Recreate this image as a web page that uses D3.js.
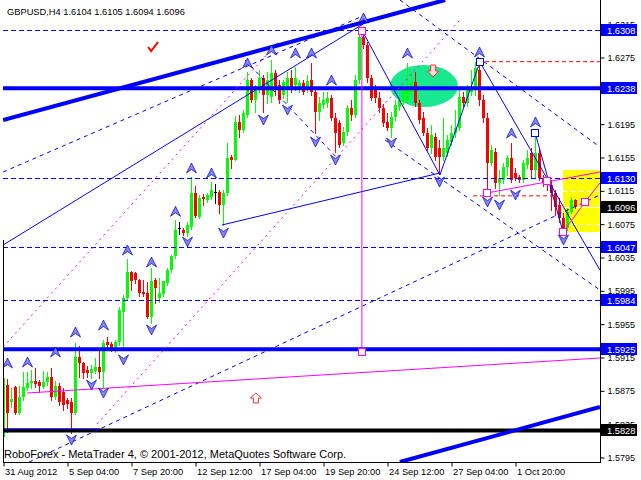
<!DOCTYPE html>
<html><head><meta charset="utf-8">
<script src="https://cdn.jsdelivr.net/npm/d3@7"></script>
<style>
html,body{margin:0;padding:0;background:#fff;}
svg{display:block;font-family:"Liberation Sans",Arial,sans-serif;}
</style>
</head><body>
<svg id="chart" width="641" height="480"></svg>
<script>
// ---------- DATA ----------
const titleText = "GBPUSD,H4  1.6104 1.6105 1.6094 1.6096";
const footerText = "RoboForex - MetaTrader 4, \u00a9 2001-2012, MetaQuotes Software Corp.";

const opens = [1.5820,1.5882,1.5862,1.5880,1.5848,1.5868,1.5878,1.5884,1.5887,1.5886,1.5880,1.5886,1.5892,1.5868,1.5881,1.5874,1.5864,1.5862,1.5848,1.5916,
1.5908,1.5900,1.5896,1.5899,1.5904,1.5898,1.5934,1.5931,1.5924,1.5934,1.5970,1.5986,1.6018,1.6016,1.6008,1.5994,1.5992,1.5964,1.6008,1.5986,
1.5991,1.6004,1.6020,1.6037,1.6070,1.6068,1.6064,1.6072,1.6112,1.6084,1.6108,1.6104,1.6108,1.6114,1.6114,1.6098,1.6112,1.6156,1.6152,1.6198,
1.6188,1.6206,1.6248,1.6224,1.6236,1.6250,1.6230,1.6228,1.6256,1.6242,1.6230,1.6236,1.6250,1.6242,1.6240,1.6244,1.6238,1.6248,1.6234,1.6210,
1.6218,1.6220,1.6226,1.6202,1.6196,1.6172,1.6186,1.6214,1.6206,1.6248,1.6300,1.6290,1.6250,1.6236,1.6226,1.6214,1.6198,1.6190,1.6204,1.6216,
1.6222,1.6224,1.6234,1.6246,1.6220,1.6202,1.6184,1.6166,1.6180,1.6166,1.6156,1.6160,1.6174,1.6184,1.6190,1.6228,1.6220,1.6234,1.6236,1.6260,
1.6224,1.6202,1.6148,1.6162,1.6124,1.6128,1.6144,1.6154,1.6136,1.6132,1.6128,1.6146,1.6160,1.6140,1.6160,1.6130,1.6126,1.6122,1.6112,1.6098,
1.6082,1.6070,1.6090,1.6104];
const highs = [1.5894,1.5889,1.5878,1.5881,1.5881,1.5898,1.5898,1.5900,1.5902,1.5888,1.5899,1.5898,1.5902,1.5887,1.5884,1.5878,1.5866,1.5866,1.5932,1.5929,
1.5910,1.5905,1.5906,1.5914,1.5925,1.5936,1.5940,1.5934,1.5936,1.5976,1.5990,1.6033,1.6019,1.6018,1.6009,1.6008,1.6006,1.6022,1.6010,1.6010,
1.6007,1.6022,1.6038,1.6080,1.6078,1.6070,1.6078,1.6132,1.6121,1.6110,1.6111,1.6112,1.6126,1.6123,1.6116,1.6116,1.6172,1.6158,1.6205,1.6206,
1.6212,1.6258,1.6250,1.6242,1.6260,1.6254,1.6258,1.6272,1.6260,1.6248,1.6248,1.6258,1.6260,1.6264,1.6248,1.6248,1.6254,1.6268,1.6238,1.6228,
1.6234,1.6234,1.6230,1.6208,1.6200,1.6192,1.6218,1.6224,1.6254,1.6302,1.6308,1.6294,1.6254,1.6242,1.6234,1.6219,1.6208,1.6210,1.6224,1.6228,
1.6242,1.6268,1.6258,1.6258,1.6224,1.6210,1.6190,1.6194,1.6184,1.6176,1.6202,1.6182,1.6194,1.6212,1.6238,1.6234,1.6242,1.6260,1.6270,1.6272,
1.6230,1.6208,1.6170,1.6166,1.6140,1.6148,1.6158,1.6172,1.6142,1.6134,1.6152,1.6164,1.6166,1.6184,1.6166,1.6134,1.6130,1.6128,1.6116,1.6106,
1.6088,1.6094,1.6108,1.6105];
const lows = [1.5816,1.5826,1.5856,1.5847,1.5847,1.5864,1.5876,1.5878,1.5880,1.5874,1.5878,1.5882,1.5864,1.5865,1.5858,1.5852,1.5854,1.5824,1.5847,1.5892,
1.5890,1.5892,1.5890,1.5896,1.5890,1.5880,1.5928,1.5923,1.5922,1.5930,1.5924,1.5984,1.5996,1.6004,1.5989,1.5989,1.5962,1.5956,1.5980,1.5982,
1.5989,1.6002,1.6018,1.6034,1.6063,1.6062,1.6061,1.6069,1.6084,1.6082,1.6098,1.6102,1.6105,1.6100,1.6088,1.6074,1.6110,1.6142,1.6152,1.6180,
1.6186,1.6204,1.6222,1.6210,1.6234,1.6210,1.6220,1.6222,1.6230,1.6220,1.6226,1.6222,1.6234,1.6236,1.6234,1.6231,1.6234,1.6230,1.6184,1.6200,
1.6214,1.6216,1.6200,1.6162,1.6168,1.6170,1.6182,1.6200,1.6204,1.6244,1.6286,1.6246,1.6224,1.6222,1.6210,1.6193,1.6188,1.6180,1.6200,1.6212,
1.6219,1.6220,1.6230,1.6217,1.6196,1.6182,1.6164,1.6160,1.6152,1.6138,1.6152,1.6157,1.6170,1.6180,1.6188,1.6217,1.6217,1.6230,1.6230,1.6218,
1.6198,1.6112,1.6146,1.6118,1.6110,1.6124,1.6134,1.6126,1.6128,1.6126,1.6126,1.6142,1.6130,1.6130,1.6128,1.6121,1.6116,1.6092,1.6086,1.6078,
1.6066,1.6068,1.6088,1.6094];
const closes = [1.5890,1.5848,1.5865,1.5848,1.5868,1.5880,1.5884,1.5887,1.5883,1.5881,1.5886,1.5892,1.5868,1.5881,1.5862,1.5858,1.5859,1.5848,1.5916,1.5908,
1.5896,1.5896,1.5901,1.5904,1.5898,1.5932,1.5930,1.5924,1.5934,1.5972,1.5986,1.6018,1.6007,1.6008,1.5992,1.5991,1.5964,1.6007,1.5998,1.5992,
1.6007,1.6020,1.6037,1.6068,1.6070,1.6064,1.6074,1.6112,1.6085,1.6106,1.6105,1.6110,1.6116,1.6114,1.6098,1.6112,1.6154,1.6152,1.6198,1.6188,
1.6208,1.6248,1.6224,1.6238,1.6250,1.6230,1.6248,1.6256,1.6238,1.6224,1.6246,1.6250,1.6238,1.6250,1.6244,1.6234,1.6247,1.6234,1.6210,1.6220,
1.6224,1.6226,1.6202,1.6184,1.6170,1.6186,1.6214,1.6206,1.6248,1.6300,1.6290,1.6250,1.6226,1.6226,1.6214,1.6196,1.6190,1.6204,1.6218,1.6224,
1.6236,1.6238,1.6246,1.6220,1.6200,1.6184,1.6166,1.6182,1.6156,1.6156,1.6166,1.6176,1.6184,1.6190,1.6228,1.6220,1.6238,1.6238,1.6262,1.6224,
1.6202,1.6148,1.6164,1.6124,1.6130,1.6144,1.6154,1.6128,1.6130,1.6128,1.6148,1.6154,1.6140,1.6160,1.6130,1.6124,1.6122,1.6112,1.6096,1.6082,
1.6070,1.6090,1.6104,1.6096];

const timeLabels = ["31 Aug 2012","5 Sep 04:00","7 Sep 20:00","12 Sep 12:00","17 Sep 04:00","19 Sep 20:00","24 Sep 12:00","27 Sep 04:00","1 Oct 20:00"];
const timeLabelBars = [0,16,32,48,64,80,96,112,128];
const priceTicks = [1.6315,1.6275,1.6195,1.6155,1.6115,1.6075,1.6035,1.5995,1.5955,1.5915,1.5875,1.5835,1.5795];

// horizontal levels
const dashedBlueLevels = [1.6308,1.6130,1.6047,1.5984];
const thickBlueLevels = [1.6238,1.5925];
const blackLevels = [1.5828];
const blueLabelLevels = [1.6308,1.6238,1.6130,1.6047,1.5984,1.5925];
const blackLabelLevels = [1.6096,1.5828];
const bidPrice = 1.6096;

// trend lines: [bar1, price1, bar2, price2]
const thickBlueTrends = [[-0.1,1.6200,110.4,1.6344],[99.1,1.57896,149.1,1.58556]];
const thinBlueTrends = [[-0.1,1.6050,89.9,1.63152],[54.6,1.6074,109.1,1.61364],[132.9,1.61844,139.9,1.60656],[-0.1,1.58292,24.1,1.58292]];
const dashedBlueTrends = [[-0.1,1.61376,90.4,1.6326],[99.1,1.6344,149.1,1.61676],[95.4,1.6176,149.1,1.5996],[6.4,1.57896,149.1,1.6110],[60.4,1.6272,83.4,1.61544]];
const waveBars = [89.6,109.1,119.1,149.1];
const wavePrices = [1.6308,1.6134,1.62696,1.6020];
const magentaTrends = [[89.6,1.6307,89.6,1.59216],[5.9,1.58724,149.1,1.59144],[120.9,1.61124,149.1,1.61376]];
const magentaDashedTrends = [[-0.1,1.59276,69.1,1.6296],[23.4,1.58352,114.1,1.6320]];
const magentaPathBars = [139.9,145.4,149.1];
const magentaPathPrices = [1.60656,1.61016,1.61244];
const redDashedTrends = [[120.4,1.6270,149.1,1.6270],[117.4,1.6109,138.4,1.6109]];

const magentaSquares = [[89.6,1.6307],[89.6,1.5922],[120.9,1.6112],[135.9,1.6127],[139.9,1.6066],[145.4,1.6102]];
const blueSquares = [[119.1,1.6270],[132.9,1.6184]];

const ellipseBox = [96.6,1.6266,113.6,1.62156];
const yellowBox = [139.9,1.6140,149.1,1.60656];
const whiteDashLevels = [1.61148,1.60752];

const upFractals = [[1,1.59084],[6,1.59096],[13,1.59216],[18,1.59456],[25,1.5954],[31,1.6044],[37,1.60296],[43,1.60904],[47,1.61424],[52,1.61364],
[61,1.62684],[67,1.6284],[73,1.62804],[77,1.62804],[82,1.6248],[90,1.63224],[101,1.62804],[119,1.62816],[127,1.61844],[133,1.61976]];
const downFractals = [[17,1.5816],[22,1.5882],[25,1.58724],[30,1.5912],[37,1.5948],[46,1.60536],[55,1.60644],[65,1.6200],[71,1.6212],[78,1.61736],
[83,1.6152],[97,1.61724],[109,1.61256],[121,1.61016],[124,1.6098],[128,1.6110],[140,1.6056]];

const checkMark = [37.4,1.62876];
const redUpArrow = [63.1,1.58664];
const redDownArrow = [107.4,1.62588];

// ---------- DRAW ----------
const svg = d3.select("#chart");
const W = 641, H = 480;
const plotL = 3, plotR = 600, plotT = 0, plotB = 462;

const x = d3.scaleLinear().domain([0,143]).range([3.5,575.5]);
const y = d3.scaleLinear().domain([1.5828,1.6308]).range([430,30]);

svg.append("rect").attr("width",W).attr("height",H).attr("fill","#fff");

svg.append("defs").append("clipPath").attr("id","plot")
  .append("rect").attr("x",plotL).attr("y",plotT).attr("width",plotR-plotL).attr("height",plotB-plotT);

const g = svg.append("g").attr("clip-path","url(#plot)");

// background objects
g.append("ellipse")
  .attr("cx",(x(ellipseBox[0])+x(ellipseBox[2]))/2)
  .attr("cy",(y(ellipseBox[1])+y(ellipseBox[3]))/2)
  .attr("rx",(x(ellipseBox[2])-x(ellipseBox[0]))/2)
  .attr("ry",(y(ellipseBox[3])-y(ellipseBox[1]))/2)
  .attr("fill","#18e890");

g.append("rect")
  .attr("x",x(yellowBox[0])).attr("y",y(yellowBox[1]))
  .attr("width",x(yellowBox[2])-x(yellowBox[0]))
  .attr("height",y(yellowBox[3])-y(yellowBox[1]))
  .attr("fill","#ffff00");

g.selectAll(".wd").data(whiteDashLevels).join("line")
  .attr("x1",x(yellowBox[0])).attr("x2",x(yellowBox[2]))
  .attr("y1",d=>Math.round(y(d))+0.5).attr("y2",d=>Math.round(y(d))+0.5)
  .attr("stroke","#fff").attr("stroke-dasharray","5,3");
g.append("line")
  .attr("x1",x(yellowBox[0])).attr("x2",plotR)
  .attr("y1",Math.round(y(bidPrice))+0.5).attr("y2",Math.round(y(bidPrice))+0.5)
  .attr("stroke","#fff");

// candles
const bars = d3.range(opens.length).map(i=>({i,o:opens[i],h:highs[i],l:lows[i],c:closes[i]}));
const col = d => d.c>d.o ? "#00ff00" : (d.c<d.o ? "#ff0000" : "#000000");
const cg = g.append("g").attr("shape-rendering","crispEdges");
cg.selectAll(".wick").data(bars).join("line")
  .attr("x1",d=>x(d.i)).attr("x2",d=>x(d.i))
  .attr("y1",d=>Math.round(y(d.h))).attr("y2",d=>Math.round(y(d.l))+1)
  .attr("stroke",col);
cg.selectAll(".body").data(bars).join("rect")
  .attr("x",d=>x(d.i)-1.5).attr("width",3)
  .attr("y",d=>Math.round(y(Math.max(d.o,d.c))))
  .attr("height",d=>Math.max(1,Math.round(y(Math.min(d.o,d.c)))-Math.round(y(Math.max(d.o,d.c)))))
  .attr("fill",col);

// helper
function seg(sel, data, stroke, width, dash){
  sel.selectAll(null).data(data).join("line")
    .attr("x1",d=>x(d[0])).attr("y1",d=>y(d[1]))
    .attr("x2",d=>x(d[2])).attr("y2",d=>y(d[3]))
    .attr("stroke",stroke).attr("stroke-width",width)
    .attr("stroke-dasharray",dash||null).attr("fill","none");
}

// horizontal levels
g.selectAll(".dbl").data(dashedBlueLevels).join("line")
  .attr("x1",plotL).attr("x2",plotR)
  .attr("y1",d=>Math.round(y(d))+0.5).attr("y2",d=>Math.round(y(d))+0.5)
  .attr("stroke","#0000ff").attr("stroke-dasharray","5,3");
g.selectAll(".tbl").data(thickBlueLevels).join("line")
  .attr("x1",plotL).attr("x2",plotR)
  .attr("y1",d=>y(d)).attr("y2",d=>y(d))
  .attr("stroke","#0000ff").attr("stroke-width",4);
g.selectAll(".bkl").data(blackLevels).join("line")
  .attr("x1",plotL).attr("x2",plotR)
  .attr("y1",d=>y(d)+0.5).attr("y2",d=>y(d)+0.5)
  .attr("stroke","#000").attr("stroke-width",4);

// trend lines
seg(g, redDashedTrends, "#ff0000", 1, "4,3");
seg(g, magentaDashedTrends, "#ff00ff", 1, "2,4");
seg(g, dashedBlueTrends, "#0000ff", 1, "4,4");
seg(g, thinBlueTrends, "#0000ff", 1);
seg(g, thickBlueTrends, "#0000ff", 4);
seg(g, magentaTrends, "#ff00ff", 1);

const lineGen = d3.line().x(d=>x(d[0])).y(d=>y(d[1]));
g.append("path").attr("d",lineGen(waveBars.map((b,k)=>[b,wavePrices[k]])))
  .attr("fill","none").attr("stroke","#0000ff");
g.append("path").attr("d",lineGen(magentaPathBars.map((b,k)=>[b,magentaPathPrices[k]])))
  .attr("fill","none").attr("stroke","#ff00ff");

// squares
g.selectAll(".msq").data(magentaSquares).join("rect")
  .attr("x",d=>Math.round(x(d[0]))-3.5).attr("y",d=>Math.round(y(d[1]))-3.5)
  .attr("width",7).attr("height",7)
  .attr("fill","#fff").attr("stroke","#ff00ff");
g.selectAll(".bsq").data(blueSquares).join("rect")
  .attr("x",d=>Math.round(x(d[0]))-3.5).attr("y",d=>Math.round(y(d[1]))-3.5)
  .attr("width",7).attr("height",7)
  .attr("fill","#fff").attr("stroke","#0000ff");

// fractal arrows
const upPath = "M0,-5 L5,5 L0,1.5 L-5,5 Z";
const dnPath = "M0,5 L5,-5 L0,-1.5 L-5,-5 Z";
g.selectAll(".uf").data(upFractals).join("path")
  .attr("d",upPath).attr("transform",d=>`translate(${x(d[0])},${y(d[1])})`)
  .attr("fill","#8585f2").attr("stroke","#0000c0").attr("stroke-width",0.7);
g.selectAll(".df").data(downFractals).join("path")
  .attr("d",dnPath).attr("transform",d=>`translate(${x(d[0])},${y(d[1])})`)
  .attr("fill","#8585f2").attr("stroke","#0000c0").attr("stroke-width",0.7);

// annotations
g.append("path").attr("d","M-5,0 L-2,4 L5,-5")
  .attr("transform",`translate(${x(checkMark[0])},${y(checkMark[1])})`)
  .attr("fill","none").attr("stroke","#ff0000").attr("stroke-width",2);
g.append("path").attr("d","M-2.5,5 L-2.5,0 L-5.5,0 L0,-5 L5.5,0 L2.5,0 L2.5,5 Z")
  .attr("transform",`translate(${x(redUpArrow[0])},${y(redUpArrow[1])})`)
  .attr("fill","#fff").attr("stroke","#ff3030");
g.append("path").attr("d","M-2.5,-6 L-2.5,0 L-5.5,0 L0,6 L5.5,0 L2.5,0 L2.5,-6 Z")
  .attr("transform",`translate(${x(redDownArrow[0])},${y(redDownArrow[1])})`)
  .attr("fill","#ffe0e0").attr("stroke","#ff3030");

// frame
svg.append("line").attr("x1",plotR+0.5).attr("x2",plotR+0.5).attr("y1",0).attr("y2",plotB+1).attr("stroke","#000");
svg.append("line").attr("x1",plotL).attr("x2",plotR+1).attr("y1",plotB+0.5).attr("y2",plotB+0.5).attr("stroke","#000");
svg.append("line").attr("x1",plotL+0.5).attr("x2",plotL+0.5).attr("y1",240).attr("y2",plotB+1).attr("stroke","#000");

// y axis
const yAxis = d3.axisRight(y).tickValues(priceTicks).tickSize(4).tickPadding(3).tickFormat(d3.format(".4f"));
const ya = svg.append("g").attr("transform",`translate(${plotR+0.5},0)`).call(yAxis);
ya.select(".domain").remove();
ya.selectAll("text").attr("font-size","9px").attr("font-family","Liberation Sans, Arial, sans-serif").attr("fill","#000");
ya.selectAll("line").attr("stroke","#000");

// x axis
const xAxis = d3.axisBottom(x).tickValues(timeLabelBars).tickSize(4).tickPadding(2).tickFormat((d,k)=>timeLabels[k]);
const xa = svg.append("g").attr("transform",`translate(0,${plotB+0.5})`).call(xAxis);
xa.select(".domain").remove();
xa.selectAll("text").attr("text-anchor","start").attr("font-size","9.3px").attr("font-family","Liberation Sans, Arial, sans-serif").attr("fill","#000").attr("dx","1");
xa.selectAll("line").attr("stroke","#000");

// price labels
function priceLabels(levels, bg){
  const lg = svg.append("g");
  levels.forEach(p=>{
    const yy = Math.round(y(p));
    lg.append("rect").attr("x",plotR+1).attr("y",yy-6).attr("width",36).attr("height",12).attr("fill",bg);
    lg.append("text").attr("x",plotR+7).attr("y",yy+3.5).attr("font-size","9.3px").attr("fill","#fff").text(d3.format(".4f")(p));
  });
}
priceLabels(blueLabelLevels,"#0000ff");
priceLabels(blackLabelLevels,"#000000");

// title & footer
svg.append("text").attr("x",7).attr("y",15).attr("font-size","9.3px").attr("fill","#000").text(titleText);
svg.append("text").attr("x",4).attr("y",458).attr("font-size","11px").attr("fill","#000").text(footerText);
</script>
</body></html>
